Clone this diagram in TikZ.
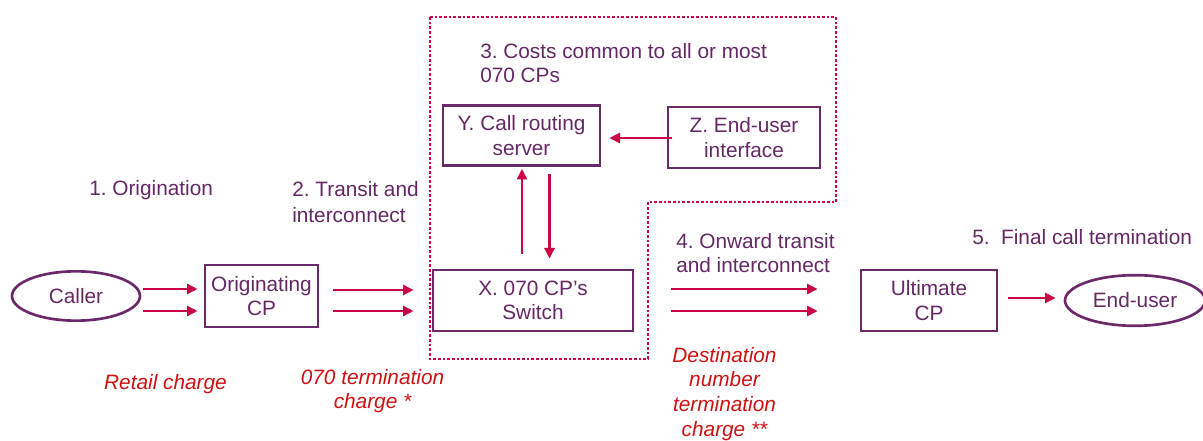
\documentclass[tikz,border=0pt]{standalone}
\usepackage{fontspec}
\setmainfont{Liberation Sans}
\frenchspacing
\usetikzlibrary{arrows.meta,shapes.geometric}
\definecolor{ptext}{HTML}{642864}
\definecolor{pline}{HTML}{6A2A6A}
\definecolor{crim}{HTML}{CC0645}
\definecolor{rtext}{HTML}{CC1111}
\begin{document}
\begin{tikzpicture}[x=0.75pt,y=-0.75pt,
  every node/.style={font=\fontsize{15.6pt}{18.4pt}\selectfont, text=ptext},
  boxnode/.style={draw=pline, line width=2pt, rectangle, align=center, inner sep=0pt},
  ovalnode/.style={draw=pline, line width=2pt, ellipse, inner sep=0pt},
  lbl/.style={align=left, inner sep=0pt, anchor=base west},
  chg/.style={align=center, inner sep=0pt, anchor=base, text=rtext, font=\fontsize{15.6pt}{18.4pt}\selectfont\itshape},
  arr/.style={draw=crim, line width=2pt, -{Triangle[length=8pt,width=7.5pt]}},
  bound/.style={draw=crim, line width=2.2pt, dash pattern=on 2pt off 1.5pt}
]
\useasboundingbox (0,0) rectangle (1203,441);

% boundary of common costs
\draw[bound] (430,17) -- (836,17) -- (836,202) -- (648,202) -- (648,359) -- (430,359) -- cycle;

% nodes
\node[ovalnode, minimum width=96pt, minimum height=37pt] (caller) at (76,296) {Caller};
\node[boxnode, minimum width=84.75pt, minimum height=46.5pt] (orig) at (261.5,296) {Originating\\CP};
\node[boxnode, minimum width=150pt, minimum height=45.75pt] (sw) at (533,300.5) {X. 070 CP’s\\Switch};
\node[boxnode, minimum width=117.75pt, minimum height=45pt] (crs) at (521.5,135.5) {Y. Call routing\\server};
\node[boxnode, minimum width=114pt, minimum height=45.75pt] (eui) at (744,137.5) {Z. End-user\\interface};
\node[boxnode, minimum width=102pt, minimum height=45.75pt] (ult) at (929,300.5) {Ultimate\\CP};
\node[ovalnode, minimum width=105pt, minimum height=38pt] (eu) at (1135,300.5) {End-user};

% labels (base anchor = baseline of last line)
\node[lbl] (l1) at (89,196) {1. Origination};
\node[lbl] (l2) at (292,223) {2. Transit and\\[1.5pt]interconnect};
\node[lbl] (l3) at (480,83) {3. Costs common to all or most\\070 CPs};
\node[lbl] (l4) at (676,273) {4. Onward transit\\and interconnect};
\node[lbl] (l5) at (972,245) {5.\ \ Final call termination};

\node[chg] (c1) at (165.5,390) {Retail charge};
\node[chg] (c2) at (372.5,409) {070 termination\\charge *};
\node[chg] (c3) at (724.5,436) {Destination\\number\\termination\\charge **};

% connectors
\draw[arr, shorten <=1.5pt, shorten >=4.5pt] ([yshift=5.25pt]caller.east) -- ([yshift=5.25pt]orig.west);
\draw[arr, shorten <=1.5pt, shorten >=4.5pt] ([yshift=-11.25pt]caller.east) -- ([yshift=-11.25pt]orig.west);
\draw[arr, shorten <=10.5pt, shorten >=13.5pt] ([yshift=4.5pt]orig.east) -- ([yshift=4.5pt]orig.east -| sw.west);
\draw[arr, shorten <=10.5pt, shorten >=13.5pt] ([yshift=-11.25pt]orig.east) -- ([yshift=-11.25pt]orig.east -| sw.west);
\draw[arr, shorten <=27.75pt, shorten >=31.5pt] ([yshift=8.6pt]sw.east) -- ([yshift=8.6pt]ult.west);
\draw[arr, shorten <=27.75pt, shorten >=31.5pt] ([yshift=-7.9pt]sw.east) -- ([yshift=-7.9pt]ult.west);
\draw[arr, shorten <=7.5pt, shorten >=6pt] ([yshift=1.9pt]ult.east) -- ([yshift=1.9pt]ult.east -| eu.west);
\draw[arr, shorten <=-3.75pt, shorten >=6pt] ([yshift=-0.4pt]eui.west) -- ([yshift=-0.4pt]eui.west -| crs.east);
\draw[arr, shorten <=11.25pt, shorten >=1.5pt] ([xshift=-8.25pt]sw.north) -- ([xshift=-8.25pt]sw.north |- crs.south);
\draw[arr, shorten <=5.25pt, shorten >=7.5pt] ([xshift=21pt]crs.south) -- ([xshift=21pt]crs.south |- sw.north);
\end{tikzpicture}
\end{document}
